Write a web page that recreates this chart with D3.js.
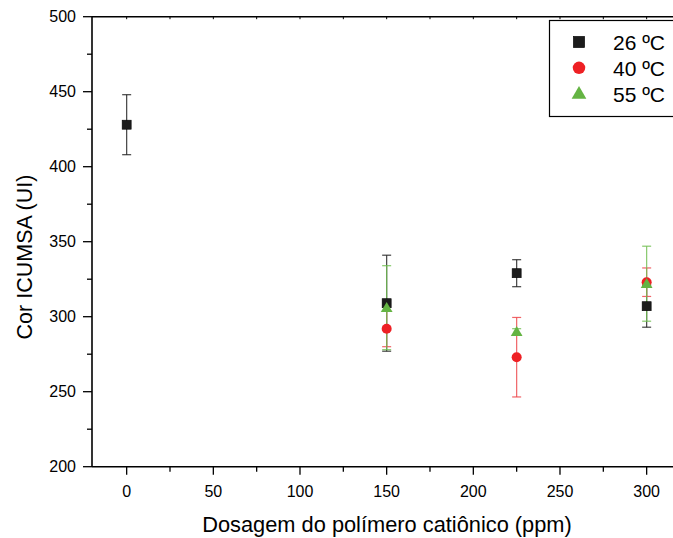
<!DOCTYPE html>
<html>
<head>
<meta charset="utf-8">
<script src="https://cdn.jsdelivr.net/npm/d3@7"></script>
<style>
  body { margin: 0; background: #fff; }
  svg { display: block; font-family: "Liberation Sans", Arial, sans-serif; }
</style>
</head>
<body>
<svg id="chart" width="673" height="538"></svg>
<script>
// data
const dosages = [0, 150, 225, 300];
const series = [
  { label: "26 \u00baC", shape: "square", color: "#1c1c1c", errColor: "#222",
    values: [428, 309, 329, 307], errors: [20, 32, 9, 14], at: [0, 150, 225, 300] },
  { label: "40 \u00baC", shape: "circle", color: "#ee2024", errColor: "#ee4a4e",
    values: [292, 273, 323], errors: [12, 26.5, 9.5], at: [150, 225, 300] },
  { label: "55 \u00baC", shape: "triangle", color: "#64b443", errColor: "#72c052",
    values: [306, 290, 322], errors: [28, 2, 25], at: [150, 225, 300] }
];
const xTicks = [0, 50, 100, 150, 200, 250, 300];
const yTicks = [200, 250, 300, 350, 400, 450, 500];

const svg = d3.select("#chart");
const plotLeft = 92, plotTop = 16.7, plotBottom = 466.7;

const x = d3.scaleLinear().domain([-20, 330]).range([plotLeft, plotLeft + 350 * 1.7333]);
const y = d3.scaleLinear().domain([200, 500]).range([plotBottom, plotTop]);

const axisCol = "#000";
// frame lines
svg.append("line").attr("x1", plotLeft).attr("x2", 673).attr("y1", plotBottom).attr("y2", plotBottom)
  .attr("stroke", axisCol).attr("stroke-width", 1.6);
svg.append("line").attr("x1", plotLeft).attr("x2", 673).attr("y1", plotTop).attr("y2", plotTop)
  .attr("stroke", axisCol).attr("stroke-width", 1.6);
svg.append("line").attr("x1", plotLeft).attr("x2", plotLeft).attr("y1", plotTop).attr("y2", plotBottom)
  .attr("stroke", axisCol).attr("stroke-width", 1.6);

// bottom axis
const minorX = d3.range(-0, 331, 25).filter(v => v % 50 !== 0);
const gx = svg.append("g");
gx.selectAll(".maj").data(xTicks).join("line")
  .attr("x1", d => x(d)).attr("x2", d => x(d)).attr("y1", plotBottom).attr("y2", plotBottom + 8)
  .attr("stroke", axisCol).attr("stroke-width", 1.3);
gx.selectAll(".min").data(minorX).join("line")
  .attr("x1", d => x(d)).attr("x2", d => x(d)).attr("y1", plotBottom).attr("y2", plotBottom + 5)
  .attr("stroke", axisCol).attr("stroke-width", 1.3);
gx.selectAll("text").data(xTicks).join("text")
  .attr("x", d => x(d)).attr("y", plotBottom + 30).attr("text-anchor", "middle")
  .attr("font-size", 16).text(d => d);

// top axis small inward ticks
svg.append("g").selectAll("line").data(xTicks.concat(minorX)).join("line")
  .attr("x1", d => x(d)).attr("x2", d => x(d)).attr("y1", plotTop).attr("y2", plotTop + 2.5)
  .attr("stroke", axisCol).attr("stroke-width", 1);

// left axis
const minorY = d3.range(225, 500, 50);
const gy = svg.append("g");
gy.selectAll(".maj").data(yTicks).join("line")
  .attr("x1", plotLeft - 9).attr("x2", plotLeft).attr("y1", d => y(d)).attr("y2", d => y(d))
  .attr("stroke", axisCol).attr("stroke-width", 1.3);
gy.selectAll(".min").data(minorY).join("line")
  .attr("x1", plotLeft - 5).attr("x2", plotLeft).attr("y1", d => y(d)).attr("y2", d => y(d))
  .attr("stroke", axisCol).attr("stroke-width", 1.3);
gy.selectAll("text").data(yTicks).join("text")
  .attr("x", plotLeft - 16).attr("y", d => y(d) + 5.5).attr("text-anchor", "end")
  .attr("font-size", 16).text(d => d);

// axis titles
svg.append("text").attr("x", 387).attr("y", 532).attr("text-anchor", "middle")
  .attr("font-size", 21.8).text("Dosagem do pol\u00edmero cati\u00f4nico (ppm)");
svg.append("text").attr("transform", "translate(32,257) rotate(-90)")
  .attr("text-anchor", "middle").attr("font-size", 21.5).text("Cor ICUMSA (UI)");

function marker(g, shape, color, cx, cy, k = 1) {
  if (shape === "square") {
    const h = 4.5 * k;
    g.append("rect").attr("x", cx - h).attr("y", cy - h).attr("width", 2 * h).attr("height", 2 * h)
      .attr("fill", color).attr("stroke", "#000").attr("stroke-width", 0.6);
  } else if (shape === "circle") {
    g.append("circle").attr("cx", cx).attr("cy", cy).attr("r", 5 * k).attr("fill", color);
  } else {
    g.append("path").attr("d", d3.symbol(d3.symbolTriangle, 60 * k * k)())
      .attr("transform", `translate(${cx},${cy + 1})`).attr("fill", color);
  }
}

// error bars then markers
series.forEach(s => {
  const g = svg.append("g");
  s.at.forEach((d, i) => {
    const cx = x(d), y1 = y(s.values[i] + s.errors[i]), y2 = y(s.values[i] - s.errors[i]);
    g.append("line").attr("x1", cx).attr("x2", cx).attr("y1", y1).attr("y2", y2)
      .attr("stroke", s.errColor).attr("stroke-width", 1.2).attr("opacity", 0.85);
    [y1, y2].forEach(yy => g.append("line").attr("x1", cx - 4.5).attr("x2", cx + 4.5)
      .attr("y1", yy).attr("y2", yy).attr("stroke", s.errColor).attr("stroke-width", 1.2)
      .attr("opacity", 0.85));
  });
});
series.forEach(s => {
  const g = svg.append("g");
  s.at.forEach((d, i) => marker(g, s.shape, s.color, x(d), y(s.values[i])));
});

// legend
const lg = svg.append("g");
lg.append("rect").attr("x", 549.5).attr("y", 20.5).attr("width", 140).attr("height", 96)
  .attr("fill", "#fff").attr("stroke", "#000").attr("stroke-width", 1.2);
series.forEach((s, i) => {
  const cy = 42 + i * 25.8;
  marker(lg, s.shape, s.color, 579, cy, 1.25);
  lg.append("text").attr("x", 613).attr("y", cy + 8).attr("font-size", 21).text(s.label);
});
</script>
</body>
</html>
